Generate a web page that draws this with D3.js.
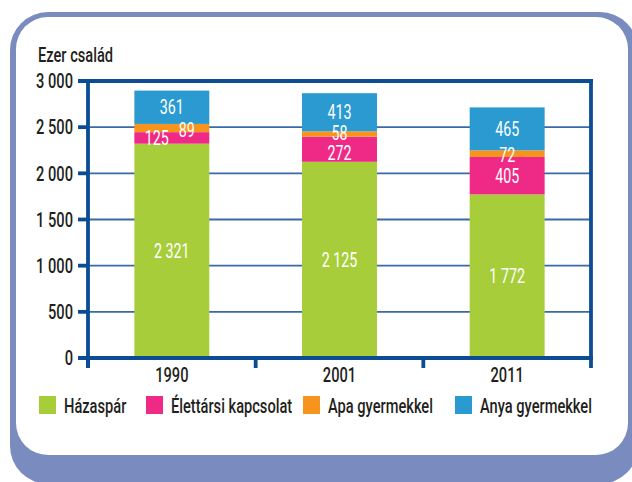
<!DOCTYPE html>
<html><head><meta charset="utf-8">
<script src="https://cdn.jsdelivr.net/npm/d3@7/dist/d3.min.js"></script>
<style>html,body{margin:0;padding:0;background:#fff;}svg{display:block;}</style>
</head><body>
<svg id="c" width="632" height="482"></svg>
<script>
// ---- data ----
const years = ["1990", "2001", "2011"];
const seriesNames = ["Házaspár", "Élettársi kapcsolat", "Apa gyermekkel", "Anya gyermekkel"];
const hazaspar = [2321, 2125, 1772];
const elettarsi = [125, 272, 405];
const apa = [89, 58, 72];
const anya = [361, 413, 465];
const yTicks = [0, 500, 1000, 1500, 2000, 2500, 3000];
const yTitle = "Ezer család";

// ---- style ----
const colors = ["#a8cd3a", "#ee2a86", "#f7941e", "#2a9ad0"];
const axisColor = "#0b4c93";
const gridColor = "#3a6aa5";
const textColor = "#231f20";
const FONT = "Roboto, 'Liberation Sans', sans-serif";
const FS = 20.5;
const FW = 500;

const svg = d3.select("#c");
const fmt = d3.formatLocale({decimal: ",", thousands: " ", grouping: [3], currency: ["", ""]}).format(",d");

// calibrate horizontal condensation so a legend label matches the reference width
const probe = svg.append("text").attr("font-family", FONT).attr("font-size", FS).attr("font-weight", FW).text(seriesNames[3]);
const SX = 112 / probe.node().getComputedTextLength();
probe.remove();

// frame
svg.append("rect").attr("x", 10).attr("y", 12).attr("width", 628).attr("height", 472).attr("rx", 38).attr("fill", "#7a8cbf");
svg.append("rect").attr("x", 16).attr("y", 17).attr("width", 612).attr("height", 438).attr("rx", 32).attr("fill", "#fff");

function txt(g, x, y, s, opts = {}) {
  return g.append("text")
    .attr("transform", `translate(${x},${y}) scale(${SX},1)`)
    .attr("text-anchor", opts.anchor || "start")
    .attr("font-family", FONT)
    .attr("font-weight", opts.weight || FW)
    .attr("font-size", opts.size || FS)
    .attr("fill", opts.fill || textColor)
    .text(s);
}

const x = d3.scaleBand().domain(years).range([88, 591]).paddingInner(0).paddingOuter(0);
const y = d3.scaleLinear().domain([0, 3000]).range([358, 81]);
const barW = x.bandwidth() * 0.447;

// gridlines
const g = svg.append("g");
g.selectAll("line.grid").data(yTicks.filter(t => t > 0 && t < 3000)).join("line")
  .attr("x1", 88).attr("x2", 591).attr("y1", d => y(d)).attr("y2", d => y(d))
  .attr("stroke", gridColor).attr("stroke-width", 1.8);

// stacked bars
const table = years.map((yr, i) => ({year: yr, v: [hazaspar[i], elettarsi[i], apa[i], anya[i]]}));
const stackData = table.map(d => {
  let acc = 0;
  return d.v.map((val, k) => { const s = {year: d.year, k, val, y0: acc, y1: acc + val}; acc += val; return s; });
}).flat();

g.selectAll("rect.bar").data(stackData).join("rect")
  .attr("x", d => x(d.year) + (x.bandwidth() - barW) / 2)
  .attr("width", barW)
  .attr("y", d => y(d.y1))
  .attr("height", d => y(d.y0) - y(d.y1))
  .attr("fill", d => colors[d.k]);

// label nudges (px) for crowded small segments
const nudge = {"1990-1": [-15, 0.5], "1990-2": [15, 1.5], "2001-1": [0, 3.5], "2001-2": [0, -0.5], "2011-2": [0, 1]};
stackData.forEach(d => {
  const n = nudge[d.year + "-" + d.k] || [0, 0];
  const cx = x(d.year) + x.bandwidth() / 2 + n[0];
  const cy = (y(d.y0) + y(d.y1)) / 2 + n[1];
  txt(g, cx, cy + 7, fmt(d.val), {anchor: "middle", fill: "#fff", weight: 400, size: 20});
});

// axes
const ax = svg.append("g").attr("stroke", axisColor).attr("stroke-width", 3.8);
ax.append("line").attr("x1", 78).attr("x2", 593).attr("y1", y(3000)).attr("y2", y(3000));
ax.append("line").attr("x1", 88).attr("x2", 88).attr("y1", y(3000) - 1.9).attr("y2", 368);
ax.append("line").attr("x1", 78).attr("x2", 593).attr("y1", y(0)).attr("y2", y(0));
ax.selectAll("line.yt").data(yTicks).join("line")
  .attr("x1", 78).attr("x2", 88).attr("y1", d => y(d)).attr("y2", d => y(d));
const bounds = years.map(yr => x(yr)).concat([x(years[years.length - 1]) + x.bandwidth()]);
ax.selectAll("line.xt").data(bounds).join("line")
  .attr("x1", d => d).attr("x2", d => d)
  .attr("y1", d => d > 500 ? y(3000) - 1.9 : y(0)).attr("y2", 368);

// tick labels
yTicks.forEach(t => txt(svg, 73, y(t) + 7.3, fmt(t), {anchor: "end"}));
years.forEach(yr => txt(svg, x(yr) + x.bandwidth() / 2, 381.5, yr, {anchor: "middle"}));
txt(svg, 38, 62, yTitle);

// legend
const legX = [39, 146, 303, 455];
seriesNames.forEach((nm, k) => {
  svg.append("rect").attr("x", legX[k]).attr("y", 396).attr("width", 17).attr("height", 18).attr("fill", colors[k]);
  txt(svg, legX[k] + 25, 413, nm);
});
</script>
</body></html>
